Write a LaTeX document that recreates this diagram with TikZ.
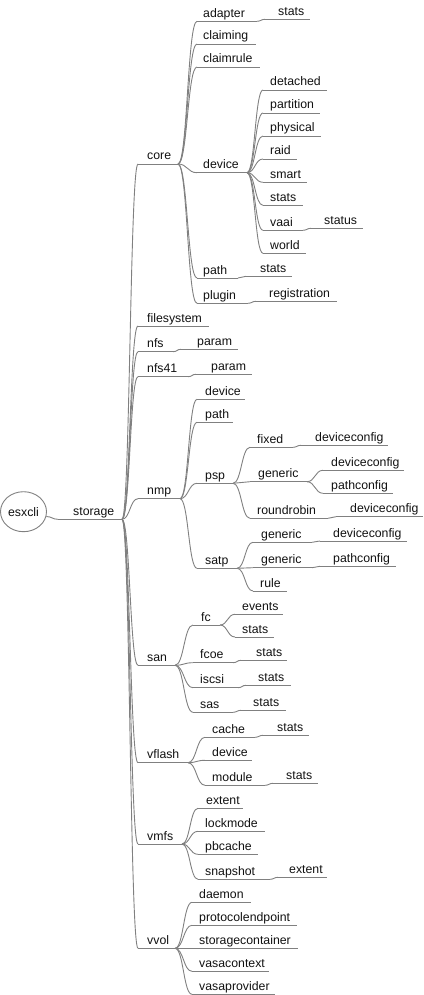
\documentclass[tikz,border=0pt]{standalone}
\usepackage{fontspec}
\setmainfont{Liberation Sans}
\usetikzlibrary{calc,shapes.geometric}
\definecolor{linegray}{HTML}{808080}
\definecolor{txt}{HTML}{111111}
\tikzset{
  lbl/.style={anchor=base west, inner sep=0pt, font=\fontsize{12.3pt}{14pt}\selectfont, text=txt},
  ul/.style={draw=linegray, line width=0.9pt},
}
\newcommand\mmnode[6]{%
  \node[lbl] (#1) at (#2,#3-4) {#6};
  \coordinate (#1-s) at (#4,#3);
  \coordinate (#1-e) at (#5,#3);
  \draw[ul] (#1-s) -- (#1-e);}
\newcommand\mmlink[2]{%
  \draw[ul] let \p1=(#1-e), \p2=(#2-s) in (\p1) .. controls ({(\x1+\x2)/2},\y1) and ({(\x1+\x2)/2},\y2) .. (\p2);}
\begin{document}
\begin{tikzpicture}[x=1pt,y=-1pt]
\useasboundingbox (0,0) rectangle (423,995);
% root
\node[draw=linegray, line width=0.9pt, ellipse, minimum width=46pt, minimum height=40pt, inner sep=0pt, font=\fontsize{12.3pt}{14pt}\selectfont, text=txt] (esxcli) at (23.5,511.7) {esxcli};
\mmnode{storage}{73}{519.3}{58}{122}{storage}
\draw[ul] let \p1=(esxcli.-12), \p2=(storage-s) in (\p1) .. controls ({(\x1+\x2)/2},\y1) and ({(\x1+\x2)/2},\y2) .. (\p2);
% level 1
\mmnode{core}{147}{164}{138}{178}{core}
\mmnode{filesystem}{147}{326}{138}{209}{filesystem}
\mmnode{nfs}{147}{351.7}{138}{173}{nfs}
\mmnode{nfsf}{147}{376.7}{138}{188}{nfs41}
\mmnode{nmp}{147}{498.7}{138}{180}{nmp}
\mmnode{san}{147}{665.3}{138}{175}{san}
\mmnode{vflash}{147}{762.7}{138}{188}{vflash}
\mmnode{vmfs}{147}{844}{138}{182}{vmfs}
\mmnode{vvol}{147}{948.3}{138}{175}{vvol}
\foreach \c in {core,filesystem,nfs,nfsf,nmp,san,vflash,vmfs,vvol} {\mmlink{storage}{\c}}
% core
\mmnode{cadapter}{203}{21.3}{197}{257}{adapter}
\mmnode{cclaiming}{203}{44}{197}{256}{claiming}
\mmnode{cclaimrule}{203}{67}{197}{260}{claimrule}
\mmnode{cdevice}{203}{172.7}{197}{247}{device}
\mmnode{cpath}{203}{278}{197}{238}{path}
\mmnode{cplugin}{203}{303.3}{197}{248}{plugin}
\foreach \c in {cadapter,cclaiming,cclaimrule,cdevice,cpath,cplugin} {\mmlink{core}{\c}}
\mmnode{cadstats}{278}{19.3}{265}{310}{stats}
\mmlink{cadapter}{cadstats}
% core device
\mmnode{ddetached}{270}{90}{263}{327}{detached}
\mmnode{dpartition}{270}{113}{263}{320}{partition}
\mmnode{dphysical}{270}{136}{263}{321}{physical}
\mmnode{draid}{270}{159}{263}{297}{raid}
\mmnode{dsmart}{270}{182.3}{263}{307}{smart}
\mmnode{dstats}{270}{205.3}{263}{303}{stats}
\mmnode{dvaai}{270}{230.3}{263}{303}{vaai}
\mmnode{dworld}{270}{253.3}{263}{306}{world}
\foreach \c in {ddetached,dpartition,dphysical,draid,dsmart,dstats,dvaai,dworld} {\mmlink{cdevice}{\c}}
\mmnode{dstatus}{324}{228.3}{311}{363}{status}
\mmlink{dvaai}{dstatus}
\mmnode{cpstats}{260}{276.3}{246}{292}{stats}
\mmlink{cpath}{cpstats}
\mmnode{cpreg}{269}{301.3}{256}{337}{registration}
\mmlink{cplugin}{cpreg}
% nfs
\mmnode{nfsparam}{197}{349.3}{181}{238}{param}
\mmlink{nfs}{nfsparam}
\mmnode{nfsfparam}{211}{374.3}{196}{252}{param}
\mmlink{nfsf}{nfsfparam}
% nmp
\mmnode{ndevice}{205}{399.3}{197}{245}{device}
\mmnode{npath}{205}{422.3}{197}{233}{path}
\mmnode{npsp}{205}{483.3}{197}{233}{psp}
\mmnode{nsatp}{205}{568.3}{197}{237}{satp}
\foreach \c in {ndevice,npath,npsp,nsatp} {\mmlink{nmp}{\c}}
\mmnode{pfixed}{257}{447.3}{250}{293}{fixed}
\mmnode{pgeneric}{258}{481.7}{250}{307}{generic}
\mmnode{prr}{257}{518.3}{250}{328}{roundrobin}
\foreach \c in {pfixed,pgeneric,prr} {\mmlink{npsp}{\c}}
\mmnode{pfdc}{315}{445.3}{301}{388}{deviceconfig}
\mmlink{pfixed}{pfdc}
\mmnode{pgdc}{331}{470.3}{323}{404}{deviceconfig}
\mmnode{pgpc}{331}{493.3}{323}{393}{pathconfig}
\mmlink{pgeneric}{pgdc}
\mmlink{pgeneric}{pgpc}
\mmnode{prdc}{350}{516.7}{336}{423}{deviceconfig}
\mmlink{prr}{prdc}
\mmnode{sgena}{261}{542.3}{253}{312}{generic}
\mmnode{sgenb}{261}{567.7}{253}{312}{generic}
\mmnode{srule}{260}{591}{253}{287}{rule}
\foreach \c in {sgena,sgenb,srule} {\mmlink{nsatp}{\c}}
\mmnode{sgadc}{333}{541}{320}{407}{deviceconfig}
\mmlink{sgena}{sgadc}
\mmnode{sgbpc}{333}{566.3}{320}{396}{pathconfig}
\mmlink{sgenb}{sgbpc}
% san
\mmnode{sfc}{201}{625}{193}{220}{fc}
\mmnode{sfcoe}{200}{662.7}{193}{233}{fcoe}
\mmnode{siscsi}{200}{687.7}{193}{238}{iscsi}
\mmnode{ssas}{200}{712.3}{193}{233}{sas}
\foreach \c in {sfc,sfcoe,siscsi,ssas} {\mmlink{san}{\c}}
\mmnode{fevents}{242}{614.3}{235}{283}{events}
\mmnode{fstats}{242}{637}{235}{274}{stats}
\mmlink{sfc}{fevents}
\mmlink{sfc}{fstats}
\mmnode{fcoestats}{256}{660.3}{241}{287}{stats}
\mmlink{sfcoe}{fcoestats}
\mmnode{iscsistats}{258}{685.3}{246}{291}{stats}
\mmlink{siscsi}{iscsistats}
\mmnode{sasstats}{253}{710.3}{241}{286}{stats}
\mmlink{ssas}{sasstats}
% vflash
\mmnode{vcache}{212}{737.3}{205}{255}{cache}
\mmnode{vdevice}{212}{760.3}{205}{252}{device}
\mmnode{vmodule}{212}{785.3}{205}{265}{module}
\foreach \c in {vcache,vdevice,vmodule} {\mmlink{vflash}{\c}}
\mmnode{vcstats}{277}{735.3}{263}{309}{stats}
\mmlink{vcache}{vcstats}
\mmnode{vmstats}{286}{783.3}{273}{318}{stats}
\mmlink{vmodule}{vmstats}
% vmfs
\mmnode{mextent}{206}{808.3}{198}{243}{extent}
\mmnode{mlock}{205}{831.3}{198}{265}{lockmode}
\mmnode{mpb}{205}{854.3}{198}{258}{pbcache}
\mmnode{msnap}{205}{879.3}{198}{270}{snapshot}
\foreach \c in {mextent,mlock,mpb,msnap} {\mmlink{vmfs}{\c}}
\mmnode{msextent}{289}{877.3}{278}{327}{extent}
\mmlink{msnap}{msextent}
% vvol
\mmnode{wdaemon}{199}{902.3}{192}{251}{daemon}
\mmnode{wpep}{199}{925.3}{192}{297}{protocolendpoint}
\mmnode{wsc}{199}{948.3}{192}{298}{storagecontainer}
\mmnode{wvc}{199}{971.3}{192}{269}{vasacontext}
\mmnode{wvp}{199}{994.3}{192}{275}{vasaprovider}
\foreach \c in {wdaemon,wpep,wsc,wvc,wvp} {\mmlink{vvol}{\c}}
\end{tikzpicture}
\end{document}
